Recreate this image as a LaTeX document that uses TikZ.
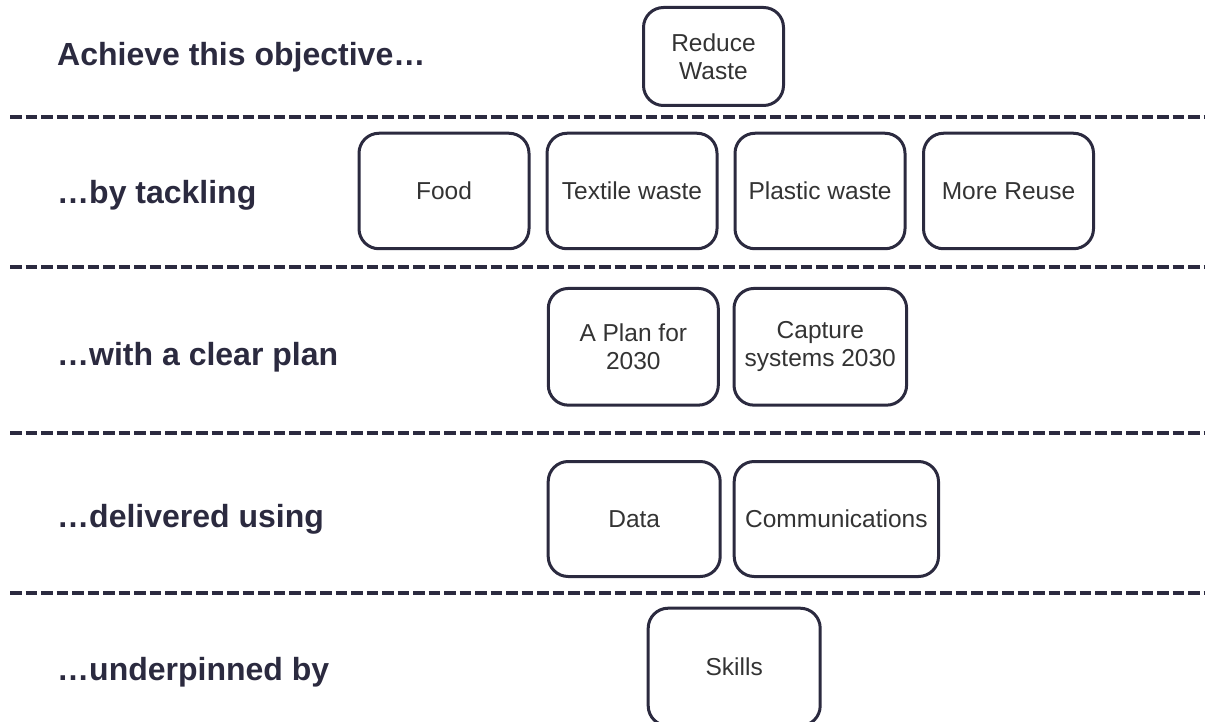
\documentclass[tikz,border=0pt]{standalone}
\usepackage{fontspec}
\setmainfont{Liberation Sans}
\usetikzlibrary{positioning}

\definecolor{ink}{HTML}{2B2A3F}
\definecolor{boxtext}{HTML}{333333}

\tikzset{
	goal/.style={draw=ink, line width=3pt, rounded corners=20pt, align=center,
		text=boxtext, font=\fontsize{24.5}{28}\selectfont,
		minimum width=170pt, minimum height=115.5pt, inner sep=1pt},
	rowlabel/.style={anchor=base west, text=ink, inner sep=0pt,
		font=\bfseries\fontsize{32}{36}\selectfont},
	divider/.style={draw=ink, line width=3.4pt, dash pattern=on 11.5pt off 4pt}
}

\begin{document}
\begin{tikzpicture}[x=1pt, y=-1pt]
	\useasboundingbox (0,0) rectangle (1205,722);
	\clip (0,0) rectangle (1205,722);
	% dividers between rows
	\draw[divider] (10,117) -- (1205,117);
	\draw[divider] (10,267) -- (1205,267);
	\draw[divider] (10,433) -- (1205,433);
	\draw[divider] (10,593) -- (1205,593);
	% row labels
	\node[rowlabel] (lobj) at (57,66) {Achieve this objective…};
	\node[rowlabel] (ltack) at (57,204) {…by tackling};
	\node[rowlabel] (lplan) at (57,365) {…with a clear plan};
	\node[rowlabel] (ldeliv) at (57,527) {…delivered using};
	\node[rowlabel] (lunder) at (57,680) {…underpinned by};
	% objective
	\node[goal, minimum width=140pt, minimum height=98pt] (reduce) at (713.5,56.5) {Reduce\\Waste};
	% themes
	\node[goal] (food) at (444,191) {Food};
	\node[goal, right=15pt of food] (textile) {Textile waste};
	\node[goal, right=15pt of textile] (plastic) {Plastic waste};
	\node[goal, right=15.5pt of plastic] (reuse) {More Reuse};
	% plans
	\node[goal, minimum height=116.7pt] (plan) at (633.3,346.8) {A Plan for\\2030};
	\node[goal, minimum width=172.6pt, minimum height=116.7pt, right=12.7pt of plan] (capture) {Capture\\systems 2030};
	% delivery
	\node[goal, minimum width=172pt, minimum height=115pt] (data) at (634.2,519) {Data};
	\node[goal, minimum width=204.3pt, minimum height=115pt, right=11pt of data] (comms) {Communications};
	% foundation
	\node[goal, minimum width=172pt, minimum height=117.6pt, anchor=north] (skills) at (734.2,606.7) {Skills};
\end{tikzpicture}
\end{document}
